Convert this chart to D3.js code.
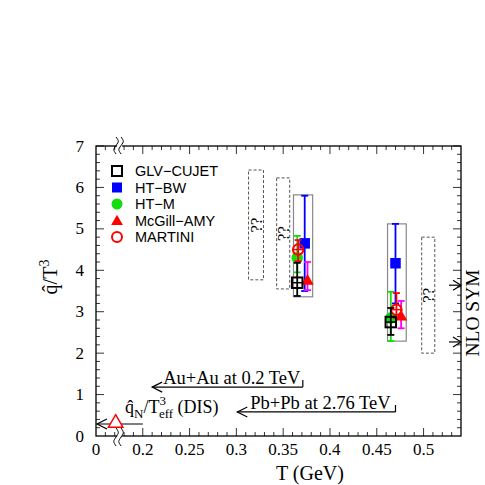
<!DOCTYPE html>
<html>
<head>
<meta charset="utf-8">
<script src="https://cdn.jsdelivr.net/npm/d3@7"></script>
<style>
  body { margin: 0; background: #fff; }
  text { font-family: "Liberation Serif", "DejaVu Serif", serif; }
  .legend text { font-family: "Liberation Sans", Arial, sans-serif; }
</style>
</head>
<body>
<div id="chart"></div>
<script>

// model names and colours
var models = ["GLV\u2212CUJET", "HT\u2212BW", "HT\u2212M", "McGill\u2212AMY", "MARTINI"];
var barColors = ["#000000", "#0000ff", "#11dd11", "#ff00ff", "#ff0000"];

// RHIC points (T ~ 0.37 GeV)
var rhicT  = [0.365, 0.373, 0.365, 0.376, 0.366];
var rhicQ  = [3.70, 4.65, 4.30, 3.76, 4.50];
var rhicLo = [3.38, 3.50, 3.95, 3.52, 4.22];
var rhicHi = [4.18, 5.80, 4.83, 4.20, 4.73];

// LHC points (T ~ 0.47 GeV)
var lhcT  = [0.465, 0.470, 0.465, 0.476, 0.471];
var lhcQ  = [2.75, 4.17, 2.85, 2.90, 3.05];
var lhcLo = [2.44, 3.20, 2.29, 2.60, 2.85];
var lhcHi = [3.09, 5.12, 3.48, 3.26, 3.45];

// grey boxes around each group: [T0, T1, q0, q1]
var groupBoxes = [[0.361, 0.3815, 3.36, 5.82], [0.4615, 0.4815, 2.29, 5.12]];
// dashed "??" boxes
var unknownBoxes = [[0.313, 0.329, 3.77, 6.42], [0.343, 0.357, 3.55, 6.23], [0.498, 0.512, 2.0, 4.8]];

// axis ticks
var xTickValues = [0.15, 0.2, 0.25, 0.3, 0.35, 0.4, 0.45, 0.5];
var xTickLabels = ["0", "0.2", "0.25", "0.3", "0.35", "0.4", "0.45", "0.5"];
var yTickValues = [0, 1, 2, 3, 4, 5, 6, 7];

// collision energy arrows: [Tstart, Tend, q]
var auArrow = [0.21, 0.371, 1.18];
var pbArrow = [0.301, 0.470, 0.58];
var disArrow = [0.15, 0.2, 0.29];
var disPoint = [0.171, 0.29];
var nloSym = [3.64, 2.27];

var width = 485, height = 485;
var pLeft = 96, pRight = 461, pTop = 146, pBottom = 436;

var svg = d3.select("#chart").append("svg")
    .attr("width", width)
    .attr("height", height);

// Scales
var x = d3.scaleLinear().domain([0.15, 0.54]).range([pLeft, pRight]);
var y = d3.scaleLinear().domain([0, 7]).range([pBottom, pTop]);

var g = svg.append("g");

// minor / major ticks on all four sides
var xMinor = d3.range(16, 54).map(function(d) { return d / 100; });
var yMinor = d3.range(0, 36).map(function(d) { return d / 5; });

function isMajorX(t) { return Math.abs(t * 20 - Math.round(t * 20)) < 1e-6; }
function isMajorY(v) { return Math.abs(v - Math.round(v)) < 1e-6; }

xMinor.forEach(function(t) {
  var len = isMajorX(t) ? 8 : 4;
  g.append("line").attr("x1", x(t)).attr("x2", x(t)).attr("y1", pBottom).attr("y2", pBottom - len)
    .attr("stroke", "#000").attr("stroke-width", 0.8);
  g.append("line").attr("x1", x(t)).attr("x2", x(t)).attr("y1", pTop).attr("y2", pTop + len)
    .attr("stroke", "#000").attr("stroke-width", 0.8);
});
yMinor.forEach(function(v) {
  if (v === 0) return;
  var len = isMajorY(v) ? 8 : 4;
  g.append("line").attr("x1", pLeft).attr("x2", pLeft + len).attr("y1", y(v)).attr("y2", y(v))
    .attr("stroke", "#000").attr("stroke-width", 0.8);
  g.append("line").attr("x1", pRight).attr("x2", pRight - len).attr("y1", y(v)).attr("y2", y(v))
    .attr("stroke", "#000").attr("stroke-width", 0.8);
});

// frame
g.append("rect")
    .attr("x", pLeft).attr("y", pTop)
    .attr("width", pRight - pLeft).attr("height", pBottom - pTop)
    .attr("fill", "none").attr("stroke", "#000").attr("stroke-width", 1.3);

// tick labels
g.selectAll(".xlab").data(xTickValues).enter().append("text")
    .attr("x", function(d) { return x(d); })
    .attr("y", pBottom + 19)
    .attr("text-anchor", "middle")
    .attr("font-size", 17)
    .text(function(d, i) { return xTickLabels[i]; });

g.selectAll(".ylab").data(yTickValues).enter().append("text")
    .attr("x", pLeft - 12)
    .attr("y", function(d) { return y(d) + 5.5; })
    .attr("text-anchor", "end")
    .attr("font-size", 17)
    .text(function(d) { return d; });

// axis titles
svg.append("text")
    .attr("transform", "translate(57," + 277 + ") rotate(-90)")
    .attr("text-anchor", "middle")
    .attr("font-size", 20)
    .text("q\u0302/T")
  .append("tspan")
    .attr("dy", -8).attr("font-size", 14)
    .text("3");

svg.append("text")
    .attr("x", 310).attr("y", 480)
    .attr("text-anchor", "middle")
    .attr("font-size", 20)
    .text("T (GeV)");

// axis break marks
function squiggle(cx, y0, y1) {
  var h = (y1 - y0) / 4;
  return "M" + cx + "," + y0 +
    " C" + (cx + 3) + "," + (y0 + h) + " " + (cx + 3) + "," + (y0 + h) + " " + cx + "," + (y0 + 2 * h) +
    " C" + (cx - 3) + "," + (y0 + 3 * h) + " " + (cx - 3) + "," + (y0 + 3 * h) + " " + cx + "," + y1;
}
[[pBottom, 428, 446], [pTop, 137, 154]].forEach(function(b) {
  g.append("rect").attr("x", x(0.1725)).attr("y", b[0] - 2).attr("width", 5).attr("height", 4).attr("fill", "#fff");
  g.append("path").attr("d", squiggle(x(0.1725) - 1, b[1], b[2])).attr("fill", "none").attr("stroke", "#000").attr("stroke-width", 1);
  g.append("path").attr("d", squiggle(x(0.1725) + 4, b[1], b[2])).attr("fill", "none").attr("stroke", "#000").attr("stroke-width", 1);
});

// dashed "??" boxes
unknownBoxes.forEach(function(b) {
  g.append("rect")
    .attr("x", x(b[0])).attr("y", y(b[3]))
    .attr("width", x(b[1]) - x(b[0])).attr("height", y(b[2]) - y(b[3]))
    .attr("fill", "none").attr("stroke", "#555").attr("stroke-width", 1)
    .attr("stroke-dasharray", "3,2");
  var cx = (x(b[0]) + x(b[1])) / 2, cy = (y(b[2]) + y(b[3])) / 2;
  g.append("text")
    .attr("transform", "translate(" + (cx + 6) + "," + cy + ") rotate(-90)")
    .attr("text-anchor", "middle")
    .attr("font-size", 17)
    .text("??");
});

// grey group boxes
groupBoxes.forEach(function(b) {
  g.append("rect")
    .attr("x", x(b[0])).attr("y", y(b[3]))
    .attr("width", x(b[1]) - x(b[0])).attr("height", y(b[2]) - y(b[3]))
    .attr("fill", "none").attr("stroke", "#888").attr("stroke-width", 1.2);
});

// markers
function drawMarker(sel, i, px, py, s) {
  s = s || 1;
  if (i === 0) {
    sel.append("rect").attr("x", px - 5 * s).attr("y", py - 5 * s).attr("width", 10 * s).attr("height", 10 * s)
      .attr("fill", "none").attr("stroke", "#000").attr("stroke-width", 2);
  } else if (i === 1) {
    sel.append("rect").attr("x", px - 5 * s).attr("y", py - 5 * s).attr("width", 10 * s).attr("height", 10 * s)
      .attr("fill", "#0000ff");
  } else if (i === 2) {
    sel.append("circle").attr("cx", px).attr("cy", py).attr("r", 5.5 * s).attr("fill", "#11dd11");
  } else if (i === 3) {
    sel.append("path").attr("d", d3.symbol().type(d3.symbolTriangle).size(60 * s * s)())
      .attr("transform", "translate(" + px + "," + (py + 1) + ")").attr("fill", "#ff0000");
  } else {
    sel.append("circle").attr("cx", px).attr("cy", py).attr("r", 5 * s)
      .attr("fill", "none").attr("stroke", "#ff0000").attr("stroke-width", 2);
  }
}

function drawGroup(ts, qs, los, his) {
  var order = [2, 1, 3, 4, 0];
  order.forEach(function(i) {
    var px = x(ts[i]);
    var c = barColors[i];
    g.append("line").attr("x1", px).attr("x2", px).attr("y1", y(los[i])).attr("y2", y(his[i]))
      .attr("stroke", c).attr("stroke-width", 1.8);
    [los[i], his[i]].forEach(function(v) {
      g.append("line").attr("x1", px - 3.5).attr("x2", px + 3.5).attr("y1", y(v)).attr("y2", y(v))
        .attr("stroke", c).attr("stroke-width", 1.8);
    });
    drawMarker(g, i, px, y(qs[i]), 1.05);
    if (i === 0 || i === 4) {
      g.append("line").attr("x1", px - 5).attr("x2", px + 5).attr("y1", y(qs[i])).attr("y2", y(qs[i]))
        .attr("stroke", c).attr("stroke-width", 1.5);
    }
  });
}
drawGroup(rhicT, rhicQ, rhicLo, rhicHi);
drawGroup(lhcT, lhcQ, lhcLo, lhcHi);

// legend
var legend = svg.append("g").attr("class", "legend");
models.forEach(function(m, i) {
  var ly = 171 + i * 16.5;
  drawMarker(legend, i, 117, ly, 1);
  legend.append("text").attr("x", 135).attr("y", ly + 5).attr("font-size", 14.5).text(m);
});

// arrows
function arrowLeft(x0, x1, yy, tick) {
  g.append("line").attr("x1", x0).attr("x2", x1).attr("y1", yy).attr("y2", yy)
    .attr("stroke", "#000").attr("stroke-width", 1.2);
  g.append("path").attr("d", "M" + (x0 + 10) + "," + (yy - 5) + " L" + x0 + "," + yy + " L" + (x0 + 10) + "," + (yy + 5))
    .attr("fill", "none").attr("stroke", "#000").attr("stroke-width", 1.2);
  if (tick) {
    g.append("line").attr("x1", x1).attr("x2", x1).attr("y1", yy).attr("y2", yy - 7)
      .attr("stroke", "#000").attr("stroke-width", 1.2);
  }
}
arrowLeft(x(auArrow[0]), x(auArrow[1]), y(auArrow[2]), true);
g.append("text").attr("x", x(auArrow[0]) + 11).attr("y", y(auArrow[2]) - 3)
  .attr("font-size", 18.5).text("Au+Au at 0.2 TeV");

arrowLeft(x(pbArrow[0]), x(pbArrow[1]), y(pbArrow[2]), true);
g.append("text").attr("x", x(pbArrow[0]) + 13).attr("y", y(pbArrow[2]) - 3)
  .attr("font-size", 18.5).text("Pb+Pb at 2.76 TeV");

arrowLeft(x(disArrow[0]) + 1, x(disArrow[1]), y(disArrow[2]), false);
g.append("path").attr("d", d3.symbol().type(d3.symbolTriangle).size(90)())
  .attr("transform", "translate(" + x(disPoint[0]) + "," + (y(disPoint[1]) - 1) + ")")
  .attr("fill", "#fff").attr("stroke", "#ff0000").attr("stroke-width", 1.5);

var dis = g.append("text").attr("x", 125).attr("y", y(disArrow[2]) - 11).attr("font-size", 18);
dis.append("tspan").text("q\u0302");
dis.append("tspan").attr("dy", 5).attr("font-size", 13).text("N");
dis.append("tspan").attr("dy", -5).text("/T");
dis.append("tspan").attr("dy", -8).attr("font-size", 13).text("3");
dis.append("tspan").attr("dx", -7).attr("dy", 13).attr("font-size", 13).text("eff");
dis.append("tspan").attr("dy", -5).text(" (DIS)");

// NLO SYM arrows on the right axis
nloSym.forEach(function(v) {
  var yy = y(v);
  g.append("line").attr("x1", pRight - 12).attr("x2", pRight).attr("y1", yy).attr("y2", yy)
    .attr("stroke", "#000").attr("stroke-width", 1.2);
  g.append("path").attr("d", "M" + (pRight - 8) + "," + (yy - 5) + " L" + pRight + "," + yy + " L" + (pRight - 8) + "," + (yy + 5))
    .attr("fill", "none").attr("stroke", "#000").attr("stroke-width", 1.2);
});
svg.append("text")
    .attr("transform", "translate(479," + 313 + ") rotate(-90)")
    .attr("text-anchor", "middle")
    .attr("font-size", 19.5)
    .text("NLO SYM");

</script>
</body>
</html>
